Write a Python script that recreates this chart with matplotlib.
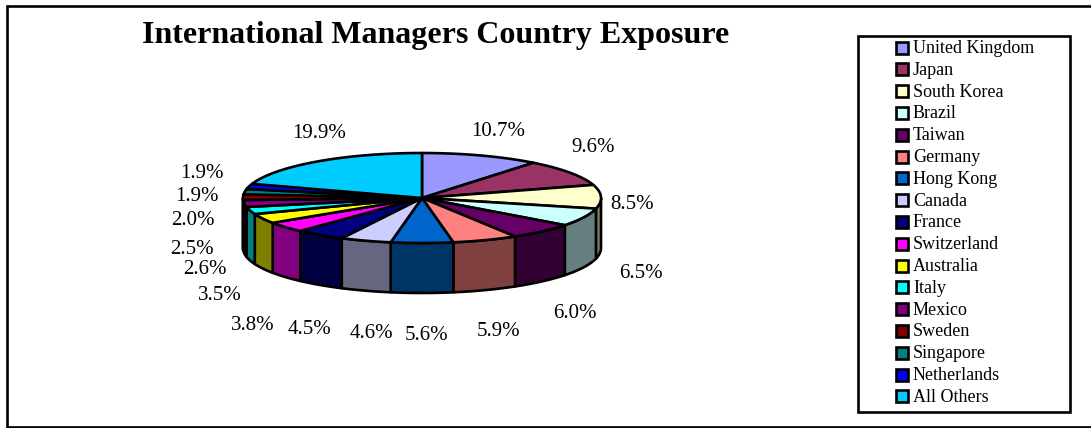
import numpy as np
import matplotlib
matplotlib.use('Agg')
import matplotlib.pyplot as plt
from matplotlib.patches import Polygon, Rectangle
import matplotlib.colors as mcolors

plt.rcParams['font.family'] = ['Liberation Serif', 'DejaVu Serif']

countries = ['United Kingdom', 'Japan', 'South Korea', 'Brazil', 'Taiwan', 'Germany',
             'Hong Kong', 'Canada', 'France', 'Switzerland', 'Australia', 'Italy',
             'Mexico', 'Sweden', 'Singapore', 'Netherlands', 'All Others']
shares = [10.7, 9.6, 8.5, 6.5, 6.0, 5.9, 5.6, 4.6, 4.5, 3.8, 3.5, 2.6, 2.5, 2.0, 1.9, 1.9, 19.9]
colors = ['#9999FF', '#993366', '#FFFFCC', '#CCFFFF', '#660066', '#FF8080',
          '#0066CC', '#CCCCFF', '#000080', '#FF00FF', '#FFFF00', '#00FFFF',
          '#800080', '#800000', '#008080', '#0000FF', '#00CCFF']
# label centres, in pixels of the picture
label_pos = [(498, 131), (593, 148), (632, 204), (641, 273), (575, 314), (499, 331),
             (427, 335), (371, 333), (310, 330), (253, 325), (220, 295), (205, 269),
             (192, 249), (193, 220), (197, 196), (202, 173), (319, 134)]

cx, cy, rx, ry, depth = 422, 198, 179, 45, 50
lw = 1.9


def darken_color(c):
    return tuple(v * 0.5 for v in mcolors.to_rgb(c))


def rim(a0, a1):
    t = np.radians(np.linspace(a0, a1, 80))
    return cx + rx * np.sin(t), cy - ry * np.cos(t)


fig = plt.figure(figsize=(10.91, 4.28), dpi=100)
ax = fig.add_axes([0, 0, 1, 1])
ax.set_xlim(0, 1091)
ax.set_ylim(428, 0)
ax.axis('off')

# outer frame, runs off the right edge
ax.add_patch(Rectangle((7, 6), 1100, 421, fc='white', ec='black', lw=lw))

edges = np.cumsum([0] + shares) / sum(shares) * 360

# side wall, only where the rim faces the viewer
for i, c in enumerate(colors):
    a0, a1 = max(edges[i], 90), min(edges[i + 1], 270)
    if a0 >= a1:
        continue
    x, y = rim(a0, a1)
    pts = np.r_[np.c_[x, y], np.c_[x[::-1], y[::-1] + depth]]
    ax.add_patch(Polygon(pts, closed=True, fc=darken_color(c), ec='black', lw=lw, joinstyle='round'))

# top face
for i, c in enumerate(colors):
    x, y = rim(edges[i], edges[i + 1])
    pts = np.r_[[[cx, cy]], np.c_[x, y]]
    ax.add_patch(Polygon(pts, closed=True, fc=c, ec='black', lw=lw, joinstyle='round'))

for s, (lx, ly) in zip(shares, label_pos):
    ax.text(lx, ly, f'{s:.1f}%', ha='center', va='center', fontsize=15, color='black')

ax.text(435.5, 35, 'International Managers Country Exposure', ha='center', va='center',
        fontsize=23, fontweight='bold', color='black')

# legend box
ax.add_patch(Rectangle((858, 36), 212, 376, fc='white', ec='black', lw=lw))
for i, (name, c) in enumerate(zip(countries, colors)):
    ly = 47.5 + i * 21.8
    ax.add_patch(Rectangle((896, ly - 6), 12, 12, fc=c, ec='black', lw=lw))
    ax.text(913, ly + 1, name, ha='left', va='center', fontsize=13, color='black')

fig.savefig('out.png', dpi=100)
